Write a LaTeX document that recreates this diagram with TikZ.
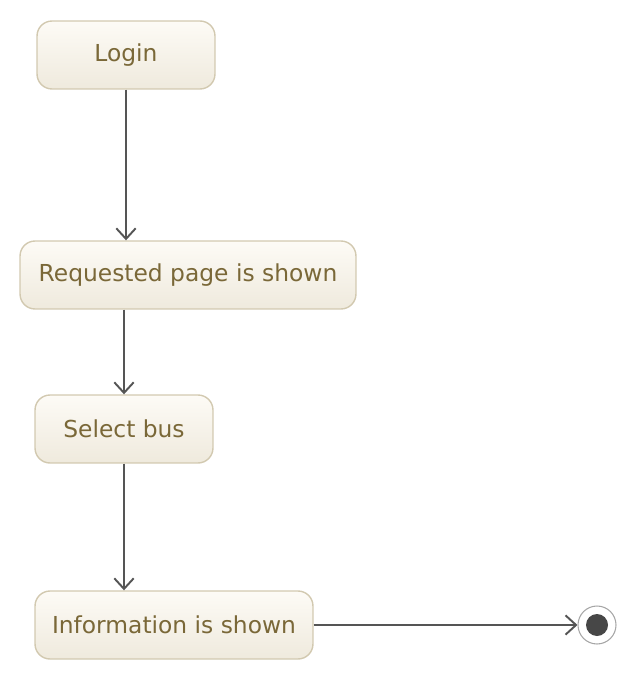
\documentclass[tikz,border=0pt]{standalone}
\usepackage{fontspec}
\setmainfont{DejaVu Sans}
\usepackage{xcolor}
\usetikzlibrary{arrows.meta}

\definecolor{boxedge}{HTML}{D2C9B0}
\definecolor{boxtop}{HTML}{FDFBF6}
\definecolor{boxbot}{HTML}{EFEADD}
\definecolor{boxtext}{HTML}{7A6838}
\definecolor{flowline}{HTML}{555555}

\tikzset{
    statebox/.style={draw=boxedge, line width=0.8pt, rounded corners=0.3cm,
        top color=boxtop, bottom color=boxbot, text=boxtext,
        minimum height=1.36cm, inner sep=0pt, font=\fontsize{13.3}{15}\selectfont},
    flow/.style={draw=flowline, line width=1.1pt,
        -{Straight Barb[length=6pt,width=11pt,line width=1.1pt]}}
}

\begin{document}
\begin{tikzpicture}[x=0.02cm,y=-0.02cm]
    \useasboundingbox (0,0) rectangle (634,682);

    % Login
    \node[statebox, minimum width=3.56cm] (login) at (126,55) {Login};

    % Requested page
    \node[statebox, minimum width=6.72cm] (req) at (188,275) {Requested page is shown};

    % Select bus
    \node[statebox, minimum width=3.56cm] (sel) at (124,429) {Select bus};

    % Information
    \node[statebox, minimum width=5.56cm] (info) at (174,625) {Information is shown};

    % Final state
    \node[circle, draw=gray!70, line width=0.6pt, fill=white, minimum size=0.76cm, inner sep=0pt] (final) at (597,625) {};
    \node[circle, fill=black!72, minimum size=0.44cm, inner sep=0pt] (finaldot) at (final) {};

    % Arrows
    \draw[flow] (login.south) -- (login.south |- req.north);
    \draw[flow] (sel.north |- req.south) -- (sel.north);
    \draw[flow] (sel.south) -- (sel.south |- info.north);
    \draw[flow] (info.east) -- (final.west);
\end{tikzpicture}
\end{document}
